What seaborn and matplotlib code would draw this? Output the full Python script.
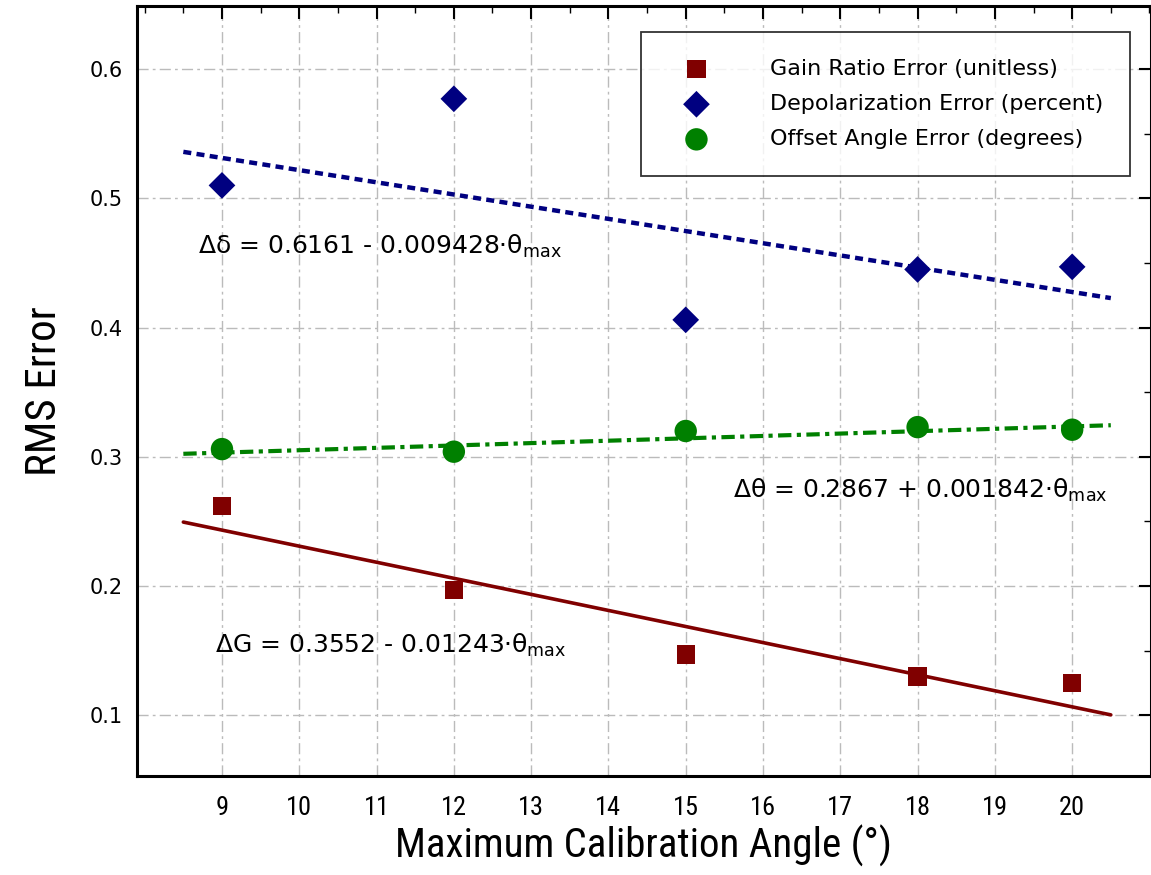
import numpy as np
import pandas as pd
import matplotlib
matplotlib.use('Agg')
import matplotlib.pyplot as plt
import seaborn as sns
from matplotlib.ticker import MultipleLocator, FixedLocator
from matplotlib import font_manager

sns.set_style('white')
plt.rcParams['font.family'] = ['DejaVu Sans']
plt.rcParams['text.color'] = 'black'
plt.rcParams['axes.labelcolor'] = 'black'
plt.rcParams['xtick.color'] = 'black'
plt.rcParams['ytick.color'] = 'black'

# Data
angles = [9, 12, 15, 18, 20]
gain_err = [0.262, 0.197, 0.147, 0.130, 0.125]
depol_err = [0.510, 0.577, 0.406, 0.445, 0.447]
offset_err = [0.306, 0.304, 0.320, 0.323, 0.321]

# Linear fit coefficients (intercept, slope) from the annotations
gain_fit = [0.3552, -0.01243]
depol_fit = [0.6161, -0.009428]
offset_fit = [0.2867, 0.001842]
fit_range = [8.5, 20.5]

x_ticks = list(range(9, 21))
y_ticks = [0.1, 0.2, 0.3, 0.4, 0.5, 0.6]

labels = ['Gain Ratio Error (unitless)',
          'Depolarization Error (percent)',
          'Offset Angle Error (degrees)']
colors = ['#800000', '#000080', '#008000']

# look for a condensed font, the reference axis text is narrow
names = {f.name for f in font_manager.fontManager.ttflist}
narrow_font = None
for cand in ['Liberation Sans Narrow', 'DejaVu Sans Condensed', 'Roboto Condensed',
             'Open Sans Condensed', 'Noto Sans Condensed']:
    if cand in names:
        narrow_font = cand
        break
condensed_dejavu = any(f.name == 'DejaVu Sans' and f.stretch in ('condensed', 'semi-condensed')
                       for f in font_manager.fontManager.ttflist)
if narrow_font:
    narrow = dict(family=[narrow_font, 'DejaVu Sans'])
    xl_size, yl_size, xt_size = 29.5, 31, 19
elif condensed_dejavu:
    narrow = dict(family=['DejaVu Sans'], stretch='condensed')
    xl_size, yl_size, xt_size = 27, 28, 17
else:
    narrow = dict(family=['DejaVu Sans'])
    xl_size, yl_size, xt_size = 24, 25, 15

fig = plt.figure(figsize=(11.51, 8.75), dpi=100)
ax = fig.add_axes([0.119, 0.113, 0.881, 0.880])

# fit lines
fx = np.array(fit_range)
fit_df = pd.DataFrame({
    'x': np.concatenate([fx, fx, fx]),
    'y': np.concatenate([gain_fit[0] + gain_fit[1] * fx,
                         depol_fit[0] + depol_fit[1] * fx,
                         offset_fit[0] + offset_fit[1] * fx]),
    'fit': ['g'] * 2 + ['d'] * 2 + ['o'] * 2,
})
sns.lineplot(data=fit_df[fit_df.fit == 'g'], x='x', y='y', ax=ax,
             color=colors[0], lw=2.6, zorder=2)
sns.lineplot(data=fit_df[fit_df.fit == 'd'], x='x', y='y', ax=ax,
             color=colors[1], lw=3.2, zorder=2)
ax.lines[-1].set_dashes([1.8, 1.2])
sns.lineplot(data=fit_df[fit_df.fit == 'o'], x='x', y='y', ax=ax,
             color=colors[2], lw=3.0, zorder=2)
ax.lines[-1].set_dashes([3.2, 1.3, 1.0, 1.3])

# data points
sns.scatterplot(x=angles, y=gain_err, ax=ax, marker='s', s=175,
                color=colors[0], edgecolor='none', label=labels[0], zorder=3)
sns.scatterplot(x=angles, y=depol_err, ax=ax, marker='D', s=185,
                color=colors[1], edgecolor='none', label=labels[1], zorder=3)
sns.scatterplot(x=angles, y=offset_err, ax=ax, marker='o', s=260,
                color=colors[2], edgecolor='none', label=labels[2], zorder=3)

ax.set_xlim(7.9, 21.02)
ax.set_ylim(0.053, 0.6487)
ax.xaxis.set_major_locator(FixedLocator(x_ticks))
ax.xaxis.set_minor_locator(MultipleLocator(0.5))
ax.yaxis.set_major_locator(FixedLocator(y_ticks))
ax.yaxis.set_minor_locator(MultipleLocator(0.05))
ax.set_xticklabels([str(v) for v in x_ticks])
ax.set_yticklabels([f'{v:.1f}' for v in y_ticks])

ax.grid(True, which='major', color='#bbbbbb', linestyle=(0, (8, 3, 2, 3)), lw=1.0)
ax.tick_params(which='both', direction='in', top=True, right=True, colors='black')
ax.tick_params(which='major', length=9, width=1.5)
ax.tick_params(which='minor', length=5, width=1.0)
ax.tick_params(axis='y', labelsize=15, pad=10)
ax.tick_params(axis='x', pad=14)
for t in ax.get_xticklabels():
    t.set(**narrow)
    t.set_fontsize(xt_size)
for sp in ax.spines.values():
    sp.set_linewidth(2.2)
    sp.set_color('black')

ax.set_xlabel('Maximum Calibration Angle (°)', fontsize=xl_size, labelpad=4, **narrow)
ax.set_ylabel('RMS Error', fontsize=yl_size, labelpad=18, **narrow)

# fit equations
ax.text(8.69, 0.463, r'Δδ = 0.6161 - 0.009428·θ$_\mathregular{max}$', fontsize=18, va='center')
ax.text(15.61, 0.274, r'Δθ = 0.2867 + 0.001842·θ$_\mathregular{max}$', fontsize=18, va='center')
ax.text(8.91, 0.154, r'ΔG = 0.3552 - 0.01243·θ$_\mathregular{max}$', fontsize=18, va='center')

leg = ax.legend(loc='upper right', bbox_to_anchor=(0.979, 0.966), fontsize=16,
                frameon=True, fancybox=False, edgecolor='black', borderpad=1.2,
                handlelength=2.6, handletextpad=2.0, labelspacing=0.68,
                borderaxespad=0, markerscale=1.0)
leg.get_frame().set_linewidth(1.3)

fig.savefig('out.png', dpi=100)
